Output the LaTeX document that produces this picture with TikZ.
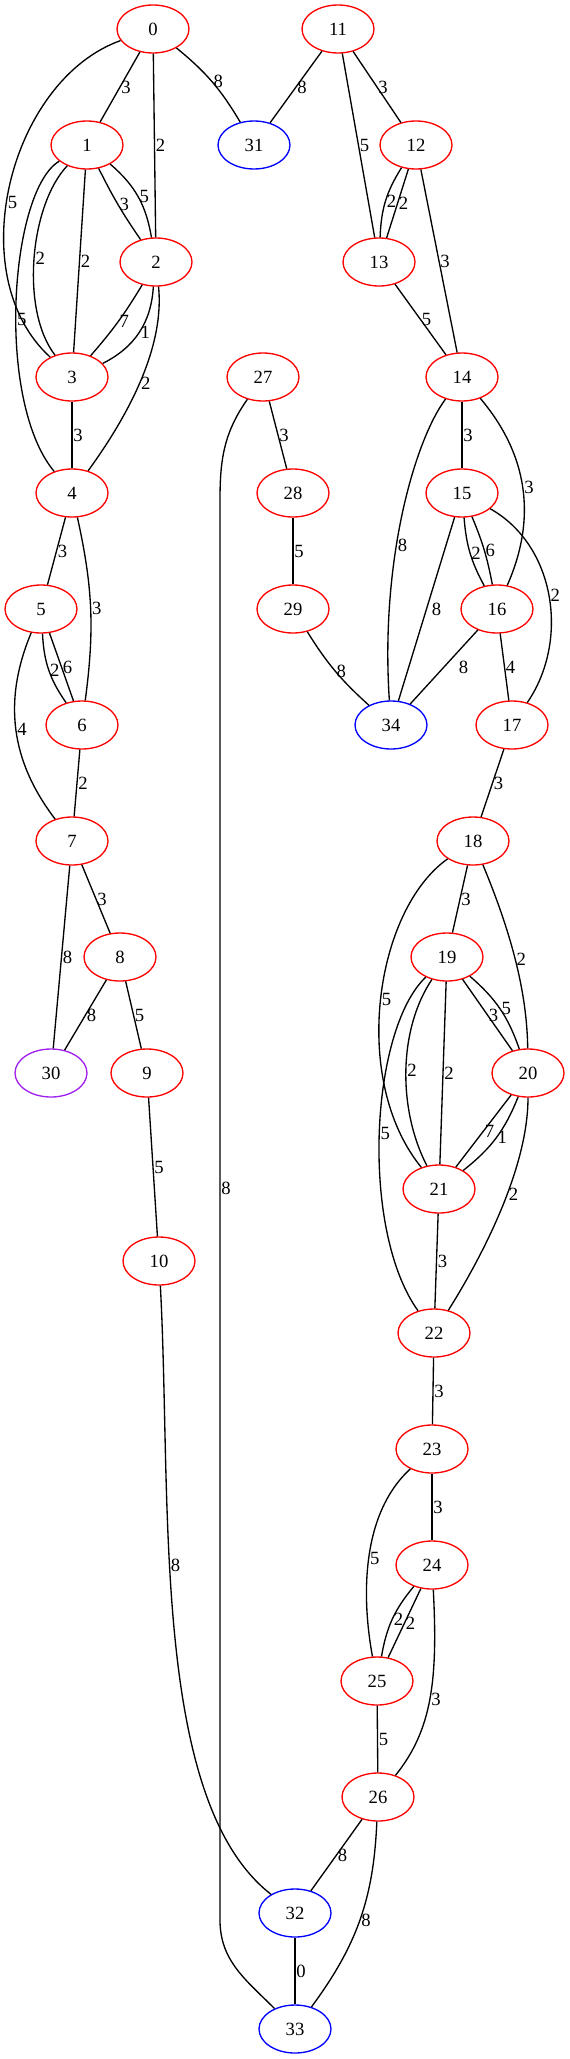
\documentclass[tikz,border=0pt]{standalone}
\usepackage{fontspec}
\setmainfont{Liberation Serif}
\usepackage{xcolor}
\usetikzlibrary{shapes.geometric}
\definecolor{gvpurple}{HTML}{A020F0}
\tikzset{every node/.style={font=\fontsize{14pt}{16pt}\selectfont},
 vtx/.style={ellipse,draw,minimum width=54pt,minimum height=36pt,inner sep=0pt},
 redv/.style={vtx,draw=red},
 bluev/.style={vtx,draw=blue},
 purplev/.style={vtx,draw=gvpurple},
 wt/.style={anchor=west,inner sep=0.6pt},
 }

\begin{document}
\begin{tikzpicture}[x=0.75pt,y=-0.75pt,line width=1pt]
        \useasboundingbox (0,0) rectangle (570,2059);
        \node[redv] (n0) at (153,29) {0};
        \node[redv] (n1) at (87,145) {1};
        \node[redv] (n2) at (156,262) {2};
        \node[redv] (n3) at (72,377) {3};
        \node[redv] (n4) at (72,493) {4};
        \node[redv] (n5) at (41,609) {5};
        \node[redv] (n6) at (82,725) {6};
        \node[redv] (n7) at (72,841) {7};
        \node[redv] (n8) at (120,957) {8};
        \node[redv] (n9) at (147,1073) {9};
        \node[redv] (n10) at (159,1261) {10};
        \node[redv] (n11) at (338,29) {11};
        \node[redv] (n12) at (416,145) {12};
        \node[redv] (n13) at (379,262) {13};
        \node[redv] (n14) at (462,377) {14};
        \node[redv] (n15) at (462,493) {15};
        \node[redv] (n16) at (497,609) {16};
        \node[redv] (n17) at (512,725) {17};
        \node[redv] (n18) at (473,841) {18};
        \node[redv] (n19) at (447,957) {19};
        \node[redv] (n20) at (528,1073) {20};
        \node[redv] (n21) at (439,1189) {21};
        \node[redv] (n22) at (434,1333) {22};
        \node[redv] (n23) at (432,1449) {23};
        \node[redv] (n24) at (432,1565) {24};
        \node[redv] (n25) at (377,1681) {25};
        \node[redv] (n26) at (378,1797) {26};
        \node[redv] (n27) at (263,377) {27};
        \node[redv] (n28) at (293,493) {28};
        \node[redv] (n29) at (293,609) {29};
        \node[purplev] (n30) at (51,1073) {30};
        \node[bluev] (n31) at (254,145) {31};
        \node[bluev] (n32) at (295,1913) {32};
        \node[bluev] (n33) at (295,2029) {33};
        \node[bluev] (n34) at (391,725) {34};
        \coordinate (k27a) at (220,500);
        \coordinate (k27b) at (220,1920);

        \draw (n0) -- node[wt]{3} (n1);
        \draw (n0) -- node[wt]{2} (n2);
        \draw (n0) to[bend left=10] node[wt]{8} (n31);
        \draw (n0) .. controls (10,80) and (-40,275) .. node[wt,pos=0.55]{5} (n3);
        \draw (n1) to[bend right=4] node[wt]{3} (n2);
        \draw (n1) to[bend left=20] node[wt]{5} (n2);
        \draw (n1) .. controls (30,205) and (20,310) .. node[wt]{2} (n3);
        \draw (n1) -- node[wt]{2} (n3);
        \draw (n1) .. controls (10,190) and (-5,400) .. node[wt,pos=0.55]{5} (n4);
        \draw (n2) to[bend left=5] node[wt]{7} (n3);
        \draw (n2) to[bend left=30] node[wt]{1} (n3);
        \draw (n2) .. controls (165,350) and (125,420) .. node[wt]{2} (n4);
        \draw (n3) -- node[wt]{3} (n4);
        \draw (n4) -- node[wt]{3} (n5);
        \draw (n4) to[bend left=10] node[wt]{3} (n6);
        \draw (n5) to[bend right=16] node[wt]{2} (n6);
        \draw (n5) -- node[wt]{6} (n6);
        \draw (n5) to[bend right=30] node[wt]{4} (n7);
        \draw (n6) -- node[wt]{2} (n7);
        \draw (n7) -- node[wt]{8} (n30);
        \draw (n7) -- node[wt]{3} (n8);
        \draw (n8) -- node[wt]{8} (n30);
        \draw (n8) -- node[wt]{5} (n9);
        \draw (n9) -- node[wt]{5} (n10);
        \draw (n10) .. controls (172,1500) and (150,1800) .. node[wt,pos=0.4]{8} (n32);
        \draw (n27) to[out=235,in=90] (k27a) -- node[wt,pos=0.485]{8} (k27b) to[out=-90,in=135] (n33);
        \draw (n27) -- node[wt]{3} (n28);
        \draw (n28) -- node[wt]{5} (n29);
        \draw (n29) to[bend right=8] node[wt]{8} (n34);

        \draw (n11) -- node[wt]{8} (n31);
        \draw (n11) -- node[wt]{3} (n12);
        \draw (n11) -- node[wt]{5} (n13);
        \draw (n12) to[bend right=15] node[wt]{2} (n13);
        \draw (n12) -- node[wt]{2} (n13);
        \draw (n12) -- node[wt]{3} (n14);
        \draw (n13) -- node[wt]{5} (n14);
        \draw (n14) -- node[wt]{3} (n15);
        \draw (n14) .. controls (415,440) and (380,560) .. node[wt,pos=0.6]{8} (n34);
        \draw (n14) to[bend left=32] node[wt]{3} (n16);
        \draw (n15) to[bend right=12] node[wt]{2} (n16);
        \draw (n15) to[bend left=6] node[wt]{6} (n16);
        \draw (n15) -- node[wt,xshift=3pt]{8} (n34);
        \draw (n15) .. controls (555,545) and (570,640) .. node[wt]{2} (n17);
        \draw (n16) -- node[wt,xshift=10pt]{8} (n34);
        \draw (n16) -- node[wt]{4} (n17);
        \draw (n17) -- node[wt]{3} (n18);
        \draw (n18) -- node[wt]{3} (n19);
        \draw (n18) .. controls (375,910) and (350,1080) .. node[wt]{5} (n21);
        \draw (n18) .. controls (510,930) and (527,990) .. node[wt]{2} (n20);
        \draw (n19) -- node[wt]{3} (n20);
        \draw (n19) to[bend left=15] node[wt]{5} (n20);
        \draw (n19) .. controls (398,1030) and (398,1110) .. node[wt]{2} (n21);
        \draw (n19) -- node[wt]{2} (n21);
        \draw (n19) .. controls (370,1030) and (360,1230) .. node[wt]{5} (n22);
        \draw (n20) -- node[wt]{7} (n21);
        \draw (n20) to[bend left=15] node[wt]{1} (n21);
        \draw (n20) .. controls (528,1170) and (480,1260) .. node[wt,pos=0.42]{2} (n22);
        \draw (n21) -- node[wt]{3} (n22);
        \draw (n22) -- node[wt]{3} (n23);
        \draw (n23) -- node[wt]{3} (n24);
        \draw (n23) .. controls (360,1515) and (362,1600) .. node[wt]{5} (n25);
        \draw (n24) to[bend right=15] node[wt]{2} (n25);
        \draw (n24) -- node[wt]{2} (n25);
        \draw (n24) .. controls (438,1680) and (432,1730) .. node[wt]{3} (n26);
        \draw (n25) -- node[wt]{5} (n26);
        \draw (n26) -- node[wt]{8} (n32);
        \draw (n26) to[bend left=17] node[wt]{8} (n33);
        \draw (n32) -- node[wt]{0} (n33);
    \end{tikzpicture}
\end{document}
